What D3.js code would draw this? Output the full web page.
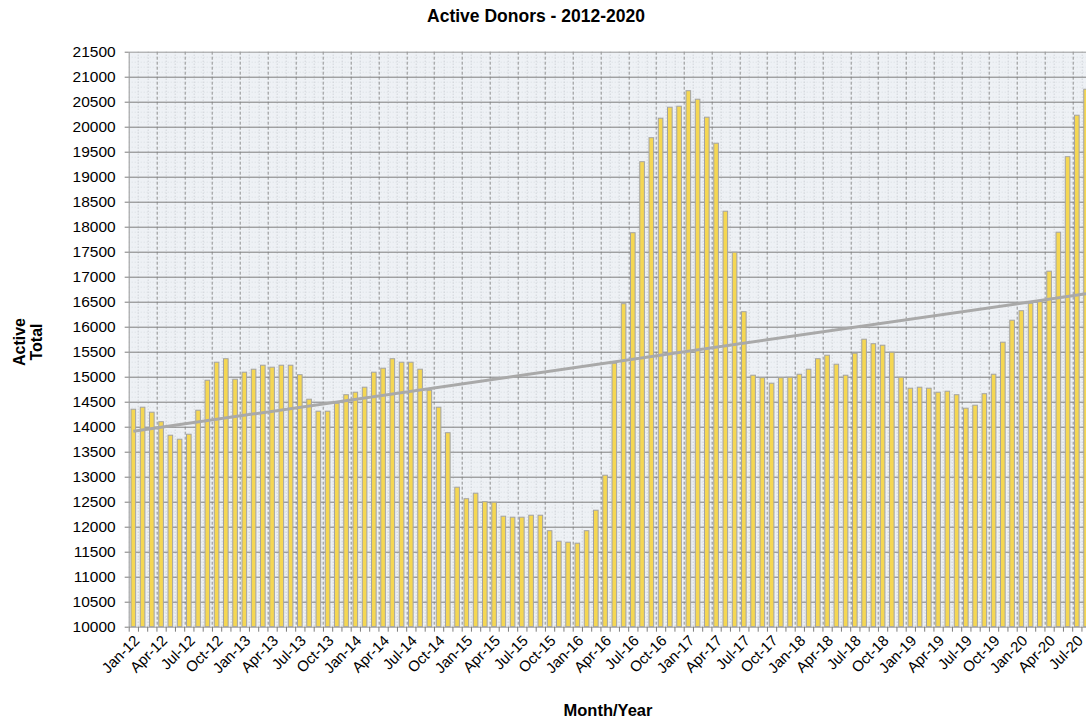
<!DOCTYPE html>
<html>
<head>
<meta charset="utf-8">
<script src="https://cdn.jsdelivr.net/npm/d3@7"></script>
<style>
  body { margin: 0; background: #fff; }
  svg { display: block; font-family: "Liberation Sans", Arial, sans-serif; }
</style>
</head>
<body>
<script>
// monthly active donor totals, Jan-12 .. Aug-20
var yearsList = ["12", "13", "14", "15", "16", "17", "18", "19", "20"];
var monthNames = ["Jan", "Feb", "Mar", "Apr", "May", "Jun",
                  "Jul", "Aug", "Sep", "Oct", "Nov", "Dec"];

var activeTotals = [
  14350, 14390, 14290, 14100, 13830, 13750, 13850, 14330, 14930, 15290, 15360, 14950, // 2012
  15090, 15150, 15230, 15190, 15230, 15230, 15040, 14550, 14310, 14310, 14470, 14640, // 2013
  14690, 14790, 15090, 15170, 15360, 15290, 15290, 15150, 14730, 14390, 13880, 12790, // 2014
  12560, 12670, 12500, 12490, 12210, 12190, 12190, 12230, 12230, 11920, 11710, 11690, // 2015
  11670, 11920, 12330, 13030, 15270, 16460, 17880, 19300, 19780, 20170, 20390, 20410, // 2016
  20720, 20550, 20190, 19670, 18310, 17490, 16300, 15030, 14980, 14870, 14980, 14990, // 2017
  15050, 15150, 15360, 15430, 15250, 15030, 15470, 15750, 15660, 15630, 15490, 14990, // 2018
  14770, 14790, 14770, 14690, 14710, 14640, 14370, 14430, 14660, 15050, 15690, 16130, // 2019
  16320, 16470, 16500, 17110, 17890, 19400, 20230, 20750                              // 2020
];

var months = activeTotals.map(function(d, i) {
  return monthNames[i % 12] + "-" + yearsList[Math.floor(i / 12)];
});
var quarterLabels = months.filter(function(d, i) { return i % 3 === 0; });
var yTicks = d3.range(10000, 21501, 500);

/////////////////
/// SETUP VIZ ///
/////////////////

var svgW = 1086, svgH = 724;
var plot = {left: 128.7, top: 51.7, right: 1090.7, bottom: 626.7};
var width = plot.right - plot.left,
    height = plot.bottom - plot.top;

var x = d3.scaleBand().domain(months).range([0, width])
    .paddingInner(0.5).paddingOuter(0.25);
var xEdge = d3.scaleLinear().domain([0, months.length]).range([0, width]);
var y = d3.scaleLinear().domain([10000, 21500]).range([height, 0]);

var svg = d3.select("body").append("svg")
    .attr("width", svgW)
    .attr("height", svgH);

var g = svg.append("g")
    .attr("transform", "translate(" + plot.left + "," + plot.top + ")");

// plot background
g.append("rect")
    .attr("width", width)
    .attr("height", height)
    .attr("fill", "#eef1f5");

// fine minor horizontal texture
g.append("g")
    .selectAll("line")
    .data(d3.range(10100, 21500, 100).filter(function(d) { return d % 500 !== 0; }))
    .enter().append("line")
    .attr("x1", 0).attr("x2", width)
    .attr("y1", function(d) { return y(d) + 0.5; })
    .attr("y2", function(d) { return y(d) + 0.5; })
    .attr("stroke", "#d9dde2")
    .attr("stroke-dasharray", "1,2");

// vertical dotted month gridlines
g.append("g")
    .selectAll("line")
    .data(d3.range(1, months.length))
    .enter().append("line")
    .attr("x1", function(d) { return Math.round(xEdge(d)) + 0.5; })
    .attr("x2", function(d) { return Math.round(xEdge(d)) + 0.5; })
    .attr("y1", 0).attr("y2", height)
    .attr("stroke", function(d) { return d % 3 === 0 ? "#8e8e8e" : "#c4c7cc"; })
    .attr("stroke-dasharray", function(d) { return d % 3 === 0 ? "3,2" : "1,2"; });

// major horizontal gridlines
g.append("g")
    .selectAll("line")
    .data(yTicks.slice(1, -1))
    .enter().append("line")
    .attr("x1", 0).attr("x2", width)
    .attr("y1", function(d) { return Math.round(y(d)) + 0.5; })
    .attr("y2", function(d) { return Math.round(y(d)) + 0.5; })
    .attr("stroke", "#7d7d7d");

// top border
g.append("line")
    .attr("x1", 0).attr("x2", width)
    .attr("y1", 0.5).attr("y2", 0.5)
    .attr("stroke", "#9a9a9a");

// bars
g.append("g")
    .selectAll(".bar")
    .data(activeTotals)
    .enter().append("rect")
    .attr("class", "bar")
    .attr("x", function(d, i) { return x(months[i]); })
    .attr("y", function(d) { return y(d); })
    .attr("width", x.bandwidth())
    .attr("height", function(d) { return height - y(d); })
    .attr("fill", "#f5d752")
    .attr("stroke", "#a3a3a3")
    .attr("stroke-width", 1);

// linear trendline (least squares over month index)
var n = activeTotals.length;
var meanX = d3.mean(d3.range(n)), meanY = d3.mean(activeTotals);
var slope = d3.sum(activeTotals, function(d, i) { return (i - meanX) * (d - meanY); }) /
            d3.sum(d3.range(n), function(i) { return (i - meanX) * (i - meanX); });
var intercept = meanY - slope * meanX;

var trend = d3.line()
    .x(function(i) { return x(months[i]) + x.bandwidth() / 2; })
    .y(function(i) { return y(intercept + slope * i); });

g.append("path")
    .datum([0, n - 1])
    .attr("d", trend)
    .attr("fill", "none")
    .attr("stroke", "#a9a9a9")
    .attr("stroke-width", 3);

// y axis
var yAxis = g.append("g")
    .attr("class", "axis axis--y")
    .call(d3.axisLeft(y).tickValues(yTicks).tickFormat(d3.format("d"))
          .tickSize(4).tickPadding(9).tickSizeOuter(0));
yAxis.select(".domain").attr("stroke", "#9a9a9a");
yAxis.selectAll(".tick line").attr("stroke", "#7d7d7d");
yAxis.selectAll("text")
    .attr("fill", "#000")
    .style("font-size", "15.5px")
    .style("font-family", "'Liberation Sans', Arial, sans-serif");

// x axis: tick marks at month boundaries
var xTickAxis = g.append("g")
    .attr("class", "axis axis--x")
    .attr("transform", "translate(0," + height + ")")
    .call(d3.axisBottom(xEdge).tickValues(d3.range(months.length + 1))
          .tickFormat("").tickSize(5).tickSizeOuter(0));
xTickAxis.select(".domain").attr("stroke", "#9a9a9a");
xTickAxis.selectAll(".tick line").attr("stroke", "#7d7d7d");

// x axis: quarterly labels
var xLabelAxis = g.append("g")
    .attr("transform", "translate(0," + height + ")")
    .call(d3.axisBottom(x).tickValues(quarterLabels).tickSize(0));
xLabelAxis.select(".domain").remove();
xLabelAxis.selectAll("text")
    .attr("x", 0)
    .attr("y", 0)
    .attr("dy", 0)
    .attr("fill", "#000")
    .attr("transform", "translate(7,15) rotate(-45)")
    .style("text-anchor", "end")
    .style("font-size", "15px")
    .style("font-family", "'Liberation Sans', Arial, sans-serif");

// titles
svg.append("text")
    .attr("x", 536)
    .attr("y", 21.5)
    .attr("text-anchor", "middle")
    .style("font-weight", "bold")
    .style("font-size", "17.5px")
    .text("Active Donors - 2012-2020");

svg.append("text")
    .attr("x", 608)
    .attr("y", 716)
    .attr("text-anchor", "middle")
    .style("font-weight", "bold")
    .style("font-size", "16.5px")
    .text("Month/Year");

var yTitle = svg.append("text")
    .attr("transform", "translate(25,342) rotate(-90)")
    .attr("text-anchor", "middle")
    .style("font-weight", "bold")
    .style("font-size", "16px");
yTitle.append("tspan").attr("x", 0).attr("y", 0).text("Active");
yTitle.append("tspan").attr("x", 0).attr("y", 17).text("Total");
</script>
</body>
</html>
